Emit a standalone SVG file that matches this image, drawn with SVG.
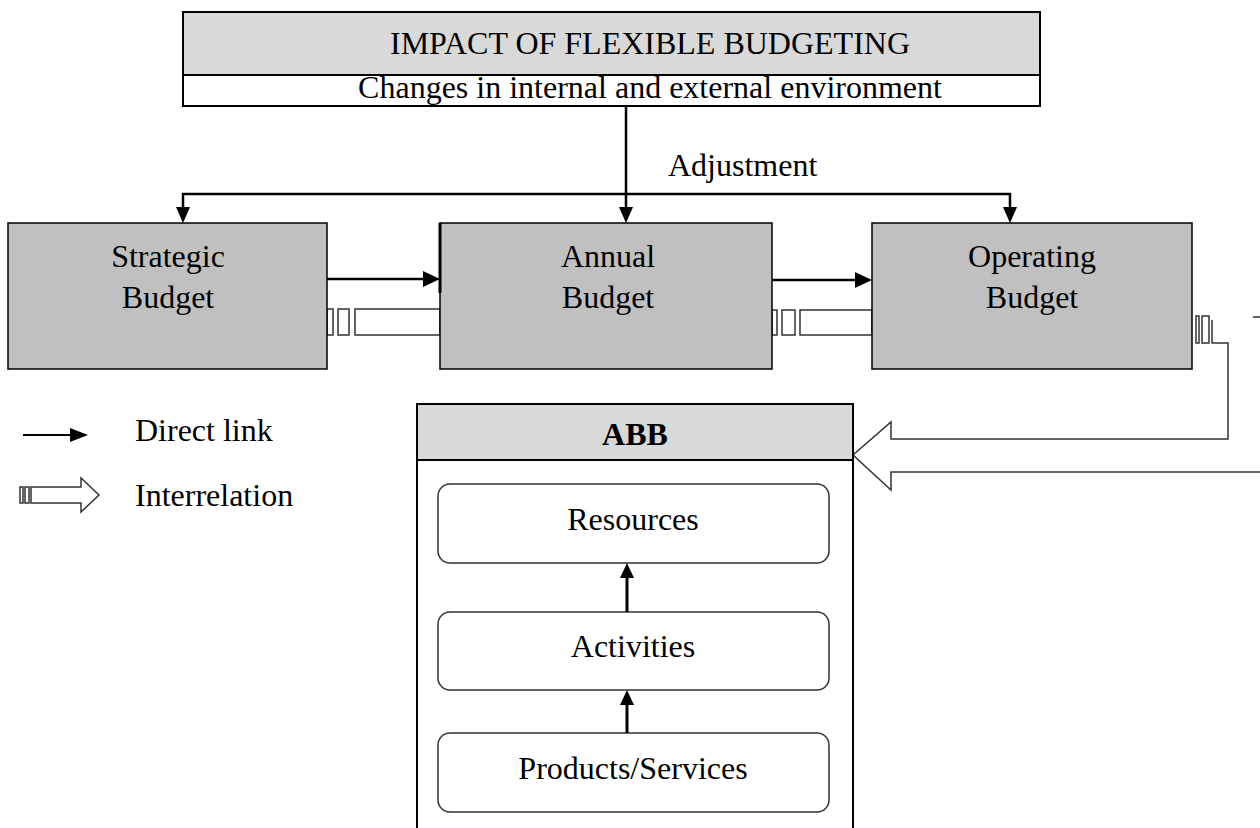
<svg xmlns="http://www.w3.org/2000/svg" width="1260" height="828" viewBox="0 0 1260 828">
<style>
text{font-family:"Liberation Serif","Times New Roman",serif;font-size:32px;fill:#000}
.c{text-anchor:middle}
.b{font-weight:bold}
.box{fill:#c0c0c0;stroke:#000;stroke-width:1.5}
.hdr{fill:#d9d9d9;stroke:#000;stroke-width:2}
.wb{fill:#fff;stroke:#000;stroke-width:2}
.rr{fill:#fff;stroke:#333;stroke-width:1.5}
.ln{fill:none;stroke:#000;stroke-width:2.5}
.ir{fill:#fff;stroke:#333;stroke-width:1.5}
.irl{fill:none;stroke:#333;stroke-width:1.5}
.ah{fill:#000}
</style>
<rect width="1260" height="828" fill="#fff"/>

<g id="title">
<rect class="wb" x="183" y="12" width="857" height="94"/>
<rect class="hdr" x="183" y="12" width="857" height="63"/>
<text class="c" x="650" y="54">IMPACT OF FLEXIBLE BUDGETING</text>
<text class="c" x="650" y="98">Changes in internal and external environment</text>
</g>

<g id="interrelations">
<rect class="ir" x="327" y="309" width="6" height="26"/>
<rect class="ir" x="338" y="309" width="11" height="26"/>
<rect class="ir" x="355" y="309" width="85" height="26"/>
<rect class="ir" x="772" y="310" width="5" height="25"/>
<rect class="ir" x="782" y="310" width="13" height="25"/>
<rect class="ir" x="800" y="310" width="72" height="25"/>
<rect class="ir" x="1196" y="316" width="3" height="27"/>
<rect class="ir" x="1202" y="316" width="7" height="27"/>
<polyline class="irl" points="1212,320 1212,343 1228,343 1228,439 891,439 891,422 853,455 891,490 891,472 1260,472"/>
<line class="irl" x1="1253" y1="317" x2="1260" y2="317"/>
</g>

<g id="strategic">
<rect class="box" x="8" y="223" width="319" height="146"/>
<text class="c" x="168" y="267">Strategic</text>
<text class="c" x="168" y="308">Budget</text>
</g>
<g id="annual">
<rect class="box" x="440" y="223" width="332" height="146"/>
<line x1="440" y1="223" x2="440" y2="293" stroke="#000" stroke-width="3"/>
<text class="c" x="608" y="267">Annual</text>
<text class="c" x="608" y="308">Budget</text>
</g>
<g id="operating">
<rect class="box" x="872" y="223" width="320" height="146"/>
<text class="c" x="1032" y="267">Operating</text>
<text class="c" x="1032" y="308">Budget</text>
</g>

<g id="abb">
<rect class="wb" x="417" y="404" width="436" height="440"/>
<rect class="hdr" x="417" y="404" width="436" height="56"/>
<text class="c b" x="635" y="445">ABB</text>
</g>
<g id="resources">
<rect class="rr" x="438" y="484" width="391" height="79" rx="12"/>
<text class="c" x="633" y="530">Resources</text>
</g>
<g id="activities">
<rect class="rr" x="438" y="612" width="391" height="78" rx="12"/>
<text class="c" x="633" y="657">Activities</text>
</g>
<g id="products">
<rect class="rr" x="438" y="733" width="391" height="79" rx="12"/>
<text class="c" x="633" y="779">Products/Services</text>
</g>

<g id="connectors">
<line class="ln" x1="626" y1="106" x2="626" y2="210"/>
<polygon class="ah" points="619,207 633,207 626,223"/>
<polyline class="ln" points="183,210 183,194 1010,194 1010,210"/>
<polygon class="ah" points="176,207 190,207 183,223"/>
<polygon class="ah" points="1003,207 1017,207 1010,223"/>
<text x="668" y="176">Adjustment</text>
<line class="ln" x1="327" y1="279" x2="425" y2="279" stroke-width="3"/>
<polygon class="ah" points="423,271 440,279 423,287"/>
<line class="ln" x1="772" y1="280" x2="857" y2="280" stroke-width="3"/>
<polygon class="ah" points="855,272 872,280 855,288"/>
<line x1="627" y1="612" x2="627" y2="576" stroke="#000" stroke-width="3"/>
<polygon class="ah" points="620,578 634,578 627,563"/>
<line x1="627" y1="733" x2="627" y2="703" stroke="#000" stroke-width="3"/>
<polygon class="ah" points="620,705 634,705 627,690"/>
</g>

<g id="legend">
<line x1="23" y1="435" x2="73" y2="435" stroke="#000" stroke-width="2"/>
<polygon class="ah" points="70,428 88,435 70,442"/>
<text x="135" y="441">Direct link</text>
<rect class="ir" x="20" y="487" width="3" height="16"/>
<rect class="ir" x="25" y="487" width="4" height="16"/>
<polygon class="ir" points="31,487 81,487 81,478 99,495 81,512 81,503 31,503"/>
<text x="135" y="506">Interrelation</text>
</g>
</svg>
